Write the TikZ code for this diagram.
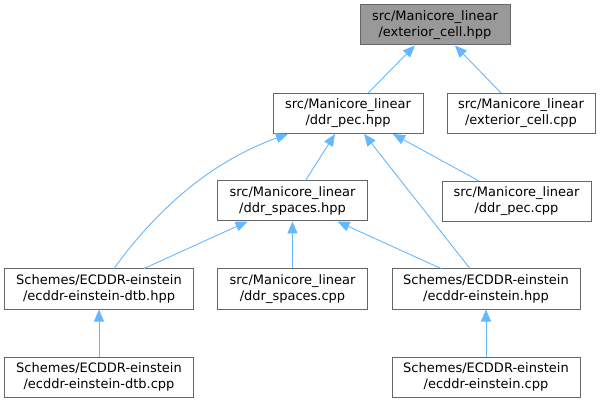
\documentclass[tikz,border=0pt]{standalone}
\usepackage{fontspec}
\setmainfont{DejaVu Sans}
\usepackage{tikz}
\usetikzlibrary{arrows.meta}
\definecolor{boxline}{HTML}{666666}
\definecolor{rootfill}{HTML}{999999}
\definecolor{incl}{HTML}{63B8FF}

\begin{document}
\begin{tikzpicture}[x=1pt, y=-1pt,
      file/.style={
        rectangle, draw=boxline, fill=white, line width=1pt,
        minimum height=40pt, inner sep=0pt, align=center,
        font=\fontsize{13}{16}\selectfont
      },
      root/.style={file, fill=rootfill},
      edge/.style={
        draw=incl, line width=0.9pt,
        -{Triangle[length=12pt, width=10pt]}
      }
    ]
      \useasboundingbox (0,0) rectangle (602,403);

      \node[root, minimum width=150pt] (cellhpp) at (435,25)
        {src/Manicore\_linear\\/exterior\_cell.hpp};
      \node[file, minimum width=150pt] (pec) at (348,113.5)
        {src/Manicore\_linear\\/ddr\_pec.hpp};
      \node[file, minimum width=148pt] (cellcpp) at (521,113.5)
        {src/Manicore\_linear\\/exterior\_cell.cpp};
      \node[file, minimum width=150pt] (spaces) at (292.5,201)
        {src/Manicore\_linear\\/ddr\_spaces.hpp};
      \node[file, minimum width=149pt] (peccpp) at (516.5,201.5)
        {src/Manicore\_linear\\/ddr\_pec.cpp};
      \node[file, minimum width=189pt] (dtb) at (99,289)
        {Schemes/ECDDR-einstein\\/ecddr-einstein-dtb.hpp};
      \node[file, minimum width=150pt] (spacescpp) at (292.5,289)
        {src/Manicore\_linear\\/ddr\_spaces.cpp};
      \node[file, minimum width=188pt] (ein) at (486,289)
        {Schemes/ECDDR-einstein\\/ecddr-einstein.hpp};
      \node[file, minimum width=189pt] (dtbcpp) at (99,377)
        {Schemes/ECDDR-einstein\\/ecddr-einstein-dtb.cpp};
      \node[file, minimum width=188pt] (eincpp) at (486,377)
        {Schemes/ECDDR-einstein\\/ecddr-einstein.cpp};

      \foreach \a/\b in {pec/cellhpp, cellcpp/cellhpp, spaces/pec,
        ein/pec, dtb/spaces, spacescpp/spaces, ein/spaces,
        dtbcpp/dtb, eincpp/ein} {
        \draw[edge] (\a) -- (\b);
      }
      \draw[edge] (peccpp) -- ([xshift=45pt]pec.south);
      \draw[edge] ([xshift=15pt]dtb.north)
        .. controls (160,205) and (215,160) .. ([xshift=-60pt]pec.south);
    \end{tikzpicture}
\end{document}
